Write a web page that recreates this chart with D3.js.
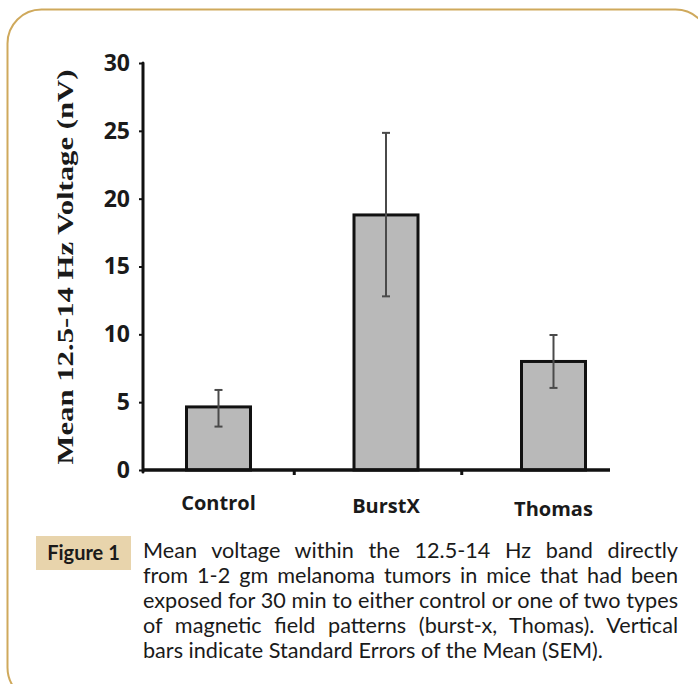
<!DOCTYPE html>
<html>
<head>
<meta charset="utf-8">
<script src="https://cdn.jsdelivr.net/npm/d3@7"></script>
<style>
  html, body { margin: 0; padding: 0; background: #fff; }
  svg { display: block; }
</style>
</head>
<body>
<svg id="chart" width="698" height="684"></svg>
<script>
// Datos
const categories = ["Control", "BurstX", "Thomas"];
const means = [4.65, 18.8, 8.0];
const errLow = [3.2, 12.8, 6.05];
const errHigh = [5.9, 24.85, 9.95];
const yTicks = [0, 5, 10, 15, 20, 25, 30];

const yTitle = "Mean 12.5-14 Hz Voltage (nV)";
const figLabel = "Figure 1";
const captionLines = [
  "Mean voltage within the 12.5-14 Hz band directly",
  "from 1-2 gm melanoma tumors in mice that had been",
  "exposed for 30 min to either control or one of two types",
  "of magnetic field patterns (burst-x, Thomas). Vertical",
  "bars indicate Standard Errors of the Mean (SEM)."
];

const svg = d3.select("#chart");

// Marco redondeado
svg.append("rect")
  .attr("x", 7.5).attr("y", 9.5)
  .attr("width", 702).attr("height", 692)
  .attr("rx", 34)
  .attr("fill", "none")
  .attr("stroke", "#cfa95c")
  .attr("stroke-width", 2);

// Escalas
const axisX0 = 143, axisX1 = 610;
const y = d3.scaleLinear().domain([0, 30]).range([470, 63]);
const x = d3.scalePoint().domain(categories).range([218.5, 553.5]);
const barW = 64;

const g = svg.append("g");

// Barras
g.selectAll("rect.bar")
  .data(categories)
  .join("rect")
  .attr("class", "bar")
  .attr("x", d => x(d) - barW / 2)
  .attr("y", (d, i) => y(means[i]))
  .attr("width", barW)
  .attr("height", (d, i) => y(0) - y(means[i]))
  .attr("fill", "#b9b9b9")
  .attr("stroke", "#111")
  .attr("stroke-width", 3);

// Barras de error
const eb = g.selectAll("g.err").data(categories).join("g").attr("class", "err");
eb.append("line")
  .attr("x1", d => x(d)).attr("x2", d => x(d))
  .attr("y1", (d, i) => y(errLow[i])).attr("y2", (d, i) => y(errHigh[i]))
  .attr("stroke", "#4a4a4a").attr("stroke-width", 2);
eb.append("line")
  .attr("x1", d => x(d) - 4).attr("x2", d => x(d) + 4)
  .attr("y1", (d, i) => y(errHigh[i])).attr("y2", (d, i) => y(errHigh[i]))
  .attr("stroke", "#4a4a4a").attr("stroke-width", 2);
eb.append("line")
  .attr("x1", d => x(d) - 4).attr("x2", d => x(d) + 4)
  .attr("y1", (d, i) => y(errLow[i])).attr("y2", (d, i) => y(errLow[i]))
  .attr("stroke", "#4a4a4a").attr("stroke-width", 2);

// Eje Y
const yAxis = d3.axisLeft(y).tickValues(yTicks).tickSize(4).tickPadding(9);
svg.append("g")
  .attr("transform", `translate(${axisX0},0)`)
  .call(yAxis)
  .call(s => s.select(".domain").remove())
  .call(s => s.selectAll(".tick line").attr("stroke", "#111").attr("stroke-width", 2))
  .call(s => s.selectAll(".tick text")
    .attr("fill", "#1a1a1a")
    .style("font-family", "'Open Sans', sans-serif")
    .style("font-weight", "bold")
    .style("font-size", "23px"));

svg.append("line")
  .attr("x1", axisX0).attr("x2", axisX0)
  .attr("y1", y(30)).attr("y2", y(0) + 2)
  .attr("stroke", "#111").attr("stroke-width", 3)
  .attr("stroke-linecap", "round");

// Eje X
svg.append("line")
  .attr("x1", axisX0).attr("x2", axisX1)
  .attr("y1", y(0)).attr("y2", y(0))
  .attr("stroke", "#111").attr("stroke-width", 3.5);

// pequeñas marcas entre categorias
const mids = categories.slice(1).map((c, i) => (x(categories[i]) + x(c)) / 2 - 8);
svg.selectAll("line.xminor")
  .data(mids)
  .join("line")
  .attr("class", "xminor")
  .attr("x1", d => d).attr("x2", d => d)
  .attr("y1", y(0)).attr("y2", y(0) + 5)
  .attr("stroke", "#111").attr("stroke-width", 3);

svg.selectAll("text.xlab")
  .data(categories)
  .join("text")
  .attr("class", "xlab")
  .attr("x", d => x(d))
  .attr("y", (d, i) => 510 + i * 3)
  .attr("text-anchor", "middle")
  .attr("fill", "#1a1a1a")
  .style("font-family", "'Open Sans', sans-serif")
  .style("font-weight", "bold")
  .style("font-size", "20px")
  .text(d => d);

// Titulo eje Y
svg.append("text")
  .attr("transform", "translate(73,267) rotate(-90)")
  .attr("text-anchor", "middle")
  .attr("fill", "#1a1a1a")
  .attr("textLength", 395)
  .attr("lengthAdjust", "spacingAndGlyphs")
  .style("font-family", "'Liberation Serif', 'DejaVu Serif', serif")
  .style("font-weight", "bold")
  .style("font-size", "23px")
  .text(yTitle);

// Etiqueta "Figure 1"
svg.append("rect")
  .attr("x", 36).attr("y", 536)
  .attr("width", 95).attr("height", 34)
  .attr("fill", "#e8d4ac");
svg.append("text")
  .attr("x", 83.5).attr("y", 560)
  .attr("text-anchor", "middle")
  .attr("fill", "#1a1a1a")
  .style("font-family", "Lato, 'Open Sans', sans-serif")
  .style("font-weight", "bold")
  .style("font-size", "20px")
  .text(figLabel);

// Texto del pie, justificado
const capX = 143, capW = 535;
const capText = svg.selectAll("text.cap")
  .data(captionLines)
  .join("text")
  .attr("class", "cap")
  .attr("x", capX)
  .attr("y", (d, i) => 558 + i * 25)
  .attr("fill", "#1a1a1a")
  .style("font-family", "Lato, 'Open Sans', sans-serif")
  .style("font-size", "20px")
  .text(d => d);

// ajustar el tamaño para que la linea mas larga llene el ancho
let widest = 0;
capText.each(function() { widest = Math.max(widest, this.getComputedTextLength()); });
capText.style("font-size", (20 * (capW - 2) / widest) + "px");

capText.each(function(d, i) {
  if (i === captionLines.length - 1) return;
  const natural = this.getComputedTextLength();
  const gaps = d.split(" ").length - 1;
  if (gaps > 0 && natural < capW) {
    d3.select(this).attr("word-spacing", (capW - natural) / gaps);
  }
});
</script>
</body>
</html>
